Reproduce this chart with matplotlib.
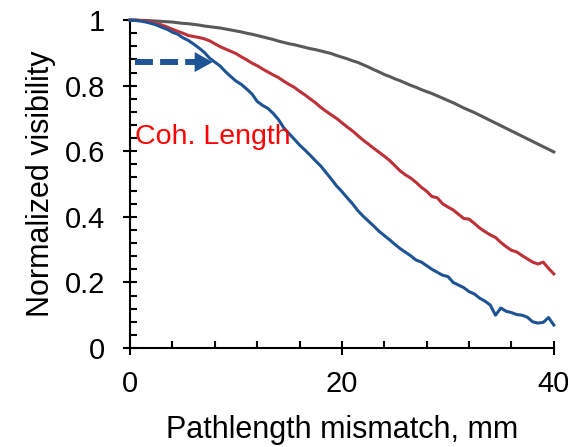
"""
plot.py - normalized visibility vs pathlength mismatch
"""

import numpy as np

import matplotlib

matplotlib.use("Agg")

import matplotlib.pyplot as plt

from matplotlib.ticker import MultipleLocator


# -------------------------
# Data
# -------------------------

mismatch_mm = np.arange(0, 40.5, 0.5)

gray_visibility = [
    1.000, 1.000, 0.999, 0.999, 0.998, 0.997, 0.996, 0.995, 0.994, 0.992,
    0.990, 0.989, 0.987, 0.985, 0.982, 0.980, 0.978, 0.976, 0.973, 0.970,
    0.967, 0.964, 0.960, 0.957, 0.953, 0.949, 0.945, 0.941, 0.936, 0.932,
    0.928, 0.925, 0.921, 0.917, 0.913, 0.910, 0.906, 0.902, 0.898, 0.892,
    0.887, 0.882, 0.876, 0.871, 0.864, 0.857, 0.849, 0.842, 0.834, 0.828,
    0.821, 0.815, 0.808, 0.801, 0.795, 0.788, 0.782, 0.776, 0.769, 0.762,
    0.755, 0.748, 0.740, 0.732, 0.725, 0.718, 0.710, 0.702, 0.694, 0.686,
    0.678, 0.670, 0.662, 0.654, 0.646, 0.638, 0.630, 0.622, 0.614, 0.606,
    0.598,
]

red_visibility = [
    1.000, 1.000, 0.999, 0.997, 0.994, 0.990, 0.985, 0.979, 0.972, 0.966,
    0.960, 0.953, 0.950, 0.947, 0.943, 0.937, 0.928, 0.919, 0.912, 0.905,
    0.898, 0.888, 0.879, 0.869, 0.861, 0.851, 0.842, 0.833, 0.825, 0.814,
    0.804, 0.795, 0.783, 0.772, 0.760, 0.748, 0.734, 0.722, 0.711, 0.700,
    0.687, 0.674, 0.662, 0.648, 0.634, 0.622, 0.609, 0.597, 0.585, 0.572,
    0.556, 0.540, 0.528, 0.518, 0.505, 0.490, 0.478, 0.462, 0.458, 0.440,
    0.430, 0.421, 0.408, 0.395, 0.393, 0.380, 0.366, 0.355, 0.345, 0.337,
    0.322, 0.309, 0.298, 0.293, 0.282, 0.272, 0.262, 0.256, 0.262, 0.243,
    0.226,
]

blue_visibility = [
    1.000, 0.999, 0.997, 0.994, 0.990, 0.985, 0.978, 0.972, 0.963, 0.957,
    0.946, 0.938, 0.927, 0.915, 0.902, 0.884, 0.872, 0.860, 0.843, 0.828,
    0.814, 0.804, 0.790, 0.775, 0.752, 0.740, 0.731, 0.716, 0.697, 0.672,
    0.654, 0.637, 0.619, 0.604, 0.588, 0.571, 0.555, 0.535, 0.515, 0.494,
    0.477, 0.458, 0.440, 0.419, 0.402, 0.387, 0.372, 0.356, 0.343, 0.330,
    0.316, 0.303, 0.292, 0.281, 0.268, 0.262, 0.251, 0.240, 0.231, 0.222,
    0.218, 0.200, 0.192, 0.184, 0.172, 0.165, 0.152, 0.143, 0.131, 0.100,
    0.122, 0.112, 0.108, 0.102, 0.100, 0.094, 0.080, 0.076, 0.078, 0.093,
    0.070,
]

# dashed shaft start / end, and arrow tip (mm), at visibility level
coh_arrow_x = [0.47, 6.1, 7.8]
coh_arrow_y = 0.872

x_ticks = [0, 20, 40]
y_ticks = [0, 0.2, 0.4, 0.6, 0.8, 1]
y_tick_labels = ["0", "0.2", "0.4", "0.6", "0.8", "1"]

GRAY = "#595959"
RED = "#BE3139"
BLUE = "#1F5494"

plt.rcParams["font.family"] = ["Liberation Sans", "DejaVu Sans"]

fig = plt.figure(figsize=(5.68, 4.47), dpi=100)

ax = fig.add_axes([0.229, 0.2215, 0.746, 0.7335])

# -------------------------
# Curves
# -------------------------

ax.plot(mismatch_mm, gray_visibility, color=GRAY, lw=2.2, clip_on=False, zorder=3)

ax.plot(mismatch_mm, red_visibility, color=RED, lw=2.2, clip_on=False, zorder=3)

ax.plot(mismatch_mm, blue_visibility, color=BLUE, lw=2.2, clip_on=False, zorder=3)

# -------------------------
# Coherence length arrow
# -------------------------

ax.plot(
    [coh_arrow_x[0], coh_arrow_x[1]],
    [coh_arrow_y, coh_arrow_y],
    color=BLUE,
    lw=4.3,
    dashes=(3.0, 1.2),
    solid_capstyle="butt",
    dash_capstyle="butt",
)

ax.annotate(
    "",
    xy=(coh_arrow_x[2], coh_arrow_y),
    xytext=(coh_arrow_x[1], coh_arrow_y),
    arrowprops=dict(
        arrowstyle="-|>,head_length=1.3,head_width=0.72",
        color=BLUE,
        lw=0,
        shrinkA=0,
        shrinkB=0,
    ),
)

ax.text(0.45, 0.643, "Coh. Length", color="#FF0000", fontsize=20.5, va="center", ha="left")

# -------------------------
# Axes styling
# -------------------------

ax.set_xlim(0, 40)

ax.set_ylim(0, 1)

ax.spines["top"].set_visible(False)

ax.spines["right"].set_visible(False)

for side in ("left", "bottom"):

    ax.spines[side].set_linewidth(1.5)

ax.set_xticks(x_ticks)

ax.set_yticks(y_ticks)

ax.set_yticklabels(y_tick_labels)

ax.xaxis.set_minor_locator(MultipleLocator(4))

ax.yaxis.set_minor_locator(MultipleLocator(0.04))

ax.tick_params(which="major", direction="inout", length=10, width=1.5, labelsize=21)

ax.tick_params(which="minor", direction="in", length=5, width=1.5)

ax.tick_params(axis="x", which="major", pad=11)

ax.tick_params(axis="y", which="major", pad=13)

ax.set_xlabel("Pathlength mismatch, mm", fontsize=22, labelpad=12)

ax.set_ylabel("Normalized visibility", fontsize=22, labelpad=6)

fig.savefig("out.png", dpi=100)

plt.close(fig)
